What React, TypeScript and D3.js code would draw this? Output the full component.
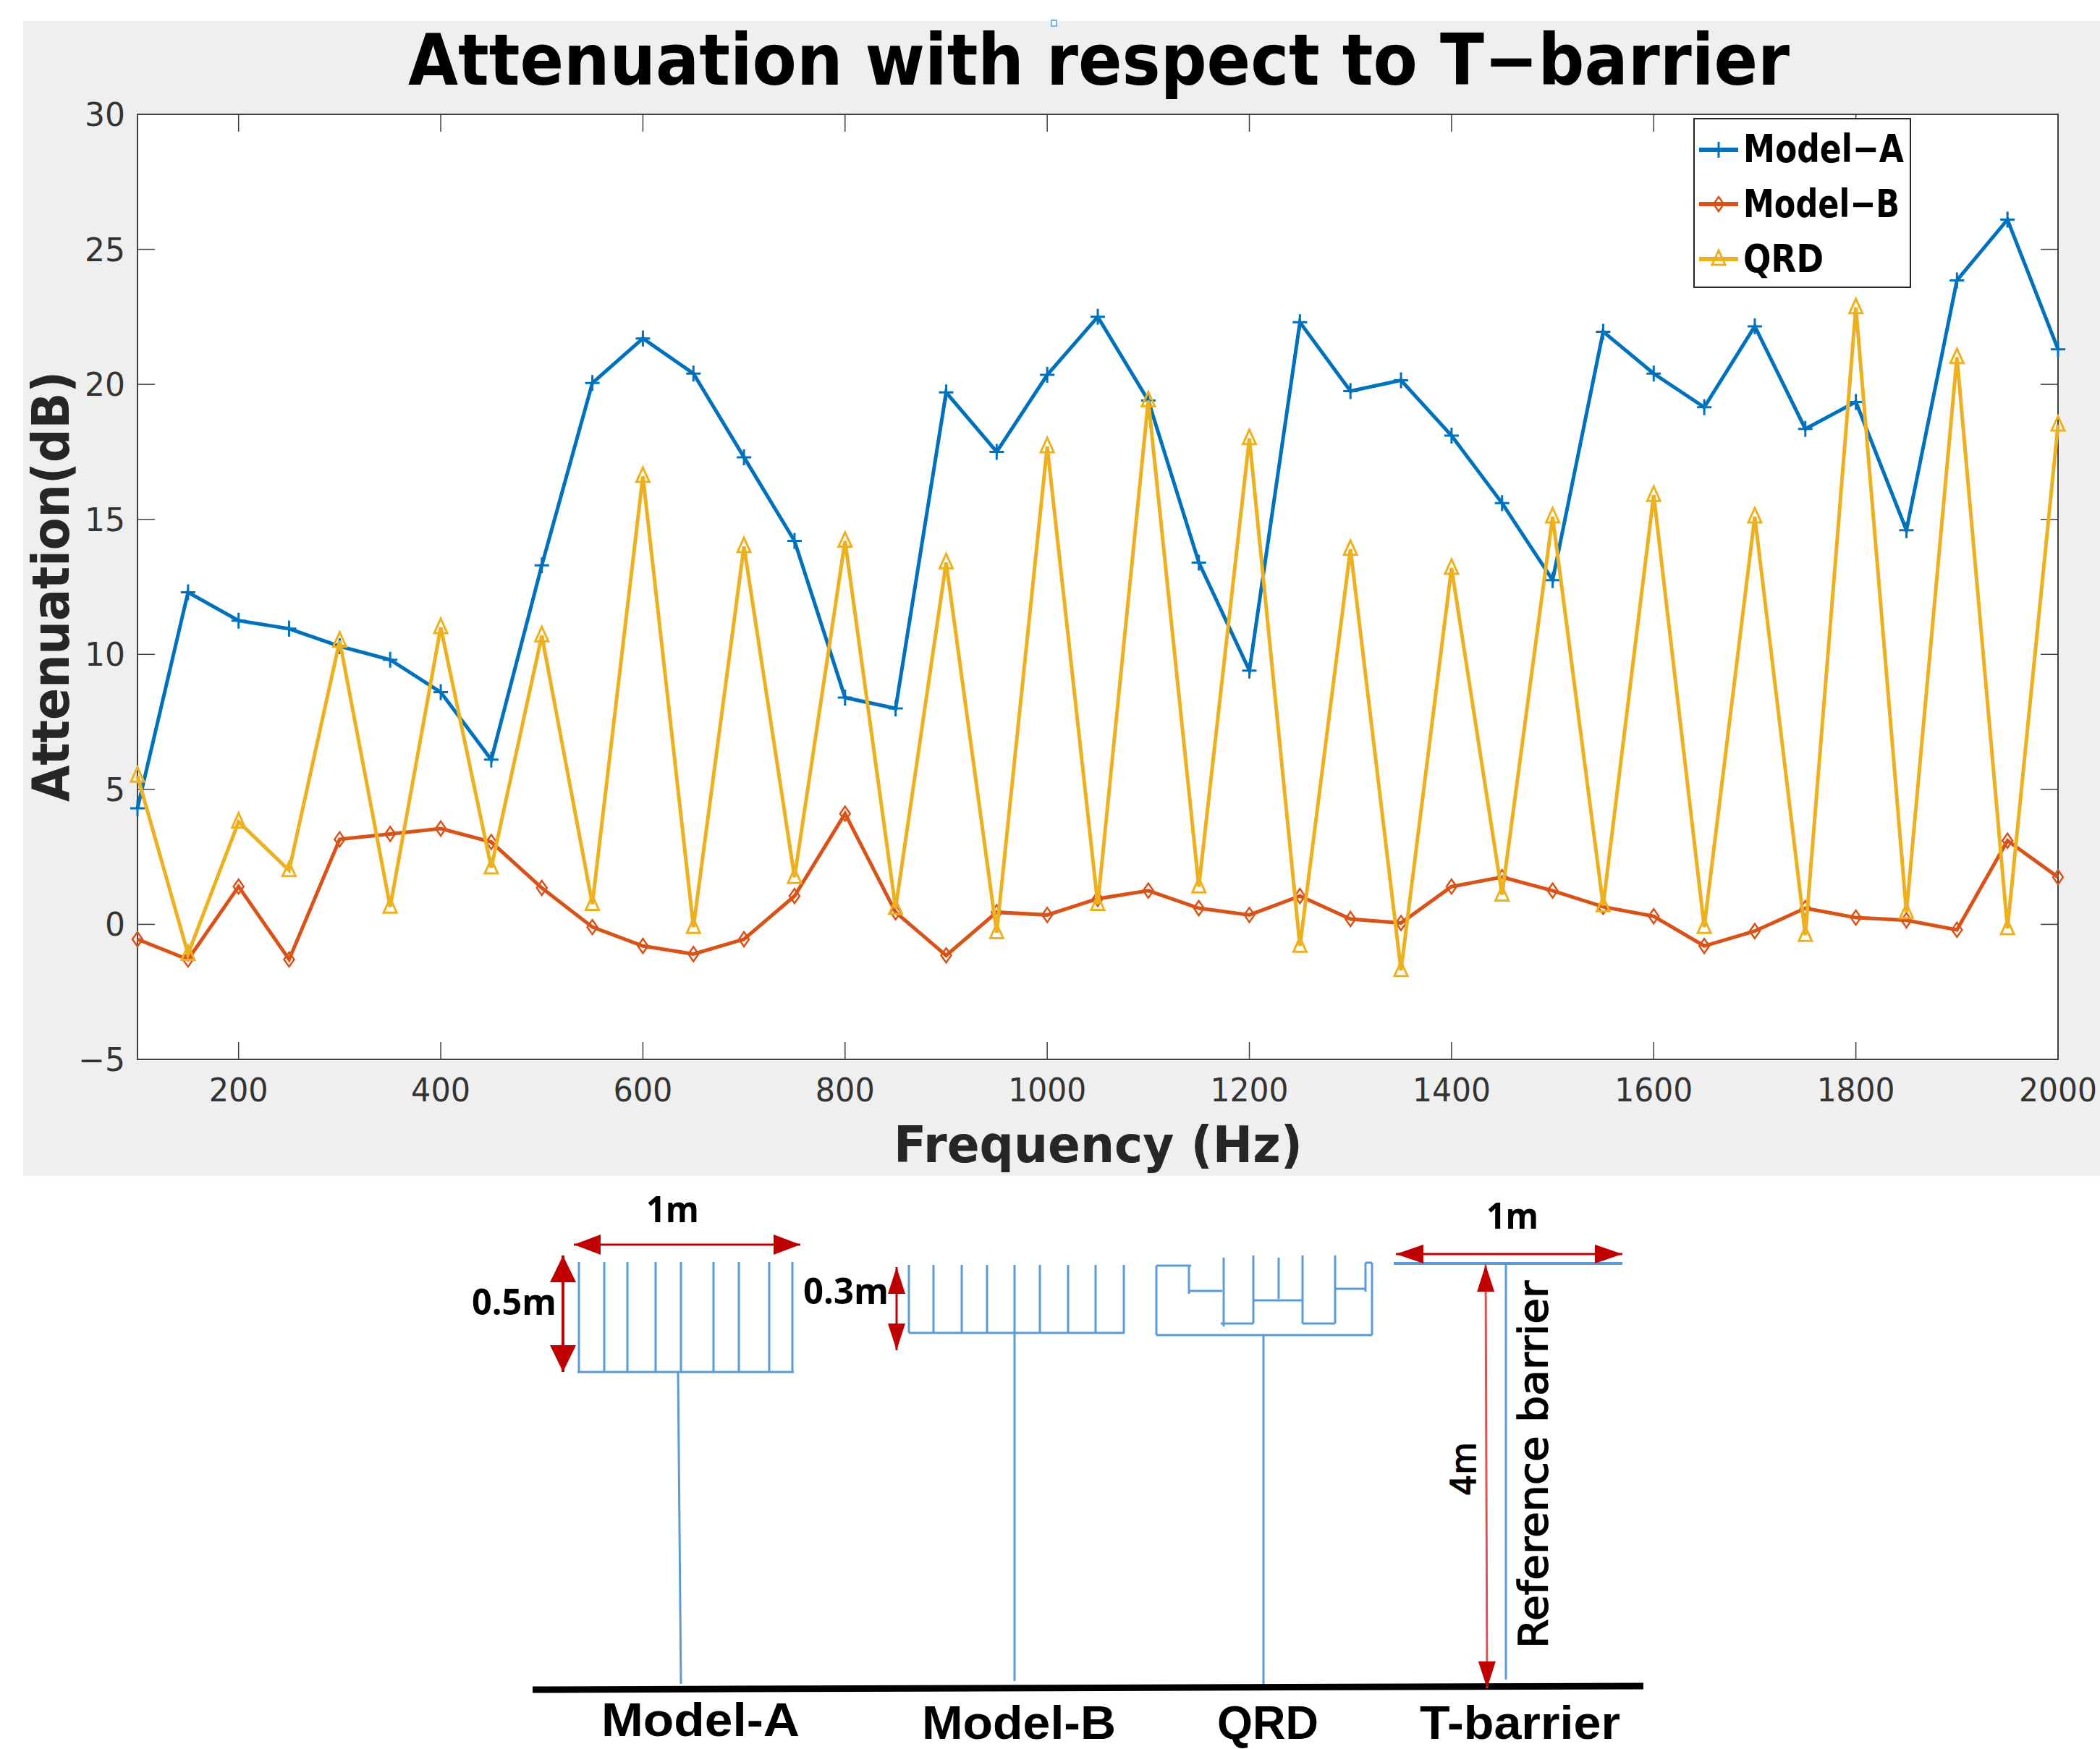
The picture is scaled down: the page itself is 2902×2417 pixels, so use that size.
import React from "react";
import * as d3 from "d3";

const frequency = d3.range(39).map((i) => 100 + i * 50);
const modelA = [4.3, 12.3, 11.25, 10.95, 10.3, 9.8, 8.6, 6.1, 13.3, 20.05, 21.7, 20.4, 17.3, 14.2, 8.4, 8.0, 19.7, 17.5, 20.35, 22.5, 19.4, 13.4, 9.4, 22.3, 19.75, 20.15, 18.1, 15.6, 12.75, 21.95, 20.4, 19.15, 22.15, 18.35, 19.35, 14.6, 23.85, 26.1, 21.3];
const modelB = [-0.55, -1.3, 1.4, -1.3, 3.15, 3.35, 3.55, 3.05, 1.35, -0.1, -0.8, -1.1, -0.55, 1.05, 4.1, 0.45, -1.15, 0.45, 0.35, 0.95, 1.25, 0.6, 0.35, 1.05, 0.2, 0.05, 1.4, 1.75, 1.25, 0.65, 0.3, -0.8, -0.25, 0.6, 0.25, 0.15, -0.2, 3.1, 1.75];
const qrd = [5.5, -1.1, 3.8, 2.0, 10.5, 0.65, 11, 2.1, 10.7, 0.75, 16.6, -0.1, 14, 1.75, 14.2, 0.6, 13.4, -0.3, 17.7, 0.75, 19.4, 1.4, 18, -0.8, 13.9, -1.7, 13.2, 1.1, 15.1, 0.7, 15.9, -0.1, 15.1, -0.4, 22.85, 0.45, 21, -0.15, 18.5];
const xTicks = [200, 400, 600, 800, 1000, 1200, 1400, 1600, 1800, 2000];
const yTicks = [-5, 0, 5, 10, 15, 20, 25, 30];
const seriesNames = ["Model\u2212A", "Model\u2212B", "QRD"];

const WIDTH = 2902;
const HEIGHT = 2417;
const plot = { left: 190, right: 2844, top: 158, bottom: 1464 };
const colors = ["#0072BD", "#D95319", "#EDB120"];
const DARK = "#262626";
const AXIS = "#404040";
const BLUE = "#5B9BD5";
const RED = "#C00000";
const LABEL_FONT = "'DejaVu Sans', sans-serif";
const SKETCH_FONT = "'Open Sans', sans-serif";
const BASE_FONT = "'Liberation Sans', sans-serif";

const x = d3.scaleLinear().domain([100, 2000]).range([plot.left, plot.right]);
const y = d3.scaleLinear().domain([-5, 30]).range([plot.bottom, plot.top]);

const makeLine = d3
  .line<number>()
  .x((_, i) => x(frequency[i]))
  .y((d) => y(d));

// markers, centred on 0,0
const Marker = ({ kind, cx, cy, color }: any) => {
  if (kind === 0)
    return <path transform={`translate(${cx},${cy})`} d="M-10,0H10M0,-11V11" stroke={color} strokeWidth={3} fill="none" />;
  if (kind === 1)
    return <path transform={`translate(${cx},${cy})`} d="M0,-10L7,0L0,10L-7,0Z" stroke={color} strokeWidth={2.5} fill="none" />;
  return <path transform={`translate(${cx},${cy})`} d="M0,-12L9,8H-9Z" stroke={color} strokeWidth={3} fill="none" />;
};

const Arrow = ({ x1, y1, x2, y2, head, half, width = 3, color = RED }: any) => {
  const len = Math.hypot(x2 - x1, y2 - y1);
  const ux = (x2 - x1) / len;
  const uy = (y2 - y1) / len;
  const tri = (tx: number, ty: number, dx: number, dy: number) => {
    const bx = tx - dx * head;
    const by = ty - dy * head;
    return `M${tx},${ty}L${bx - dy * half},${by + dx * half}L${bx + dy * half},${by - dx * half}Z`;
  };
  return (
    <g>
      <line x1={x1} y1={y1} x2={x2} y2={y2} stroke={color} strokeWidth={width} />
      <path d={tri(x2, y2, ux, uy)} fill={RED} />
      <path d={tri(x1, y1, -ux, -uy)} fill={RED} />
    </g>
  );
};

// schematic outlines below the chart, in picture pixels
const schematicSegments = [
  // Model-A
  ...[800, 835, 867, 906, 941, 986, 1021, 1063, 1095].map((fx) => [fx, 1744, fx, 1896]),
  [798, 1896, 1097, 1896],
  [937, 1896, 941, 2327],
  // Model-B
  ...[1256, 1290, 1329, 1364, 1402, 1437, 1476, 1514, 1553].map((fx) => [fx, 1748, fx, 1842]),
  [1256, 1842, 1554, 1842],
  [1402, 1842, 1402, 2323],
  // QRD
  [1598, 1749, 1598, 1845],
  [1598, 1749, 1646, 1749],
  [1643, 1749, 1643, 1788],
  [1643, 1784, 1689, 1784],
  [1691, 1738, 1691, 1833],
  [1687, 1829, 1732, 1829],
  [1732, 1735, 1732, 1829],
  [1732, 1797, 1800, 1797],
  [1767, 1738, 1767, 1795],
  [1800, 1735, 1800, 1829],
  [1800, 1829, 1845, 1829],
  [1845, 1735, 1845, 1829],
  [1845, 1781, 1887, 1781],
  [1887, 1745, 1887, 1785],
  [1887, 1745, 1896, 1745],
  [1896, 1745, 1896, 1845],
  [1598, 1845, 1896, 1845],
  [1746, 1845, 1746, 2330],
  // T-barrier
  [2081, 1746, 2081, 2321],
];

const FitText = ({ tx, ty, len, size, weight = 700, font = SKETCH_FONT, fill = "#000", rotate, outline = 0, children }: any) => (
  <text
    x={tx}
    y={ty}
    fontSize={size}
    fontWeight={weight}
    fontFamily={font}
    fill={fill}
    stroke={outline ? fill : "none"}
    strokeWidth={outline}
    textLength={len}
    lengthAdjust="spacingAndGlyphs"
    transform={rotate ? `rotate(${rotate},${tx},${ty})` : undefined}
  >
    {children}
  </text>
);

export default function App() {
  const series = [modelA, modelB, qrd];
  const legendY = [207, 282, 358];
  const legendBase = [224, 300, 376];
  const legendLen = [222, 216, 111];

  return (
    <svg
      width={WIDTH}
      height={HEIGHT}
      viewBox={`0 0 ${WIDTH} ${HEIGHT}`}
      style={{ position: "absolute", left: 0, top: 0, display: "block", background: "#fff" }}
    >
      <rect x={32} y={29} width={WIDTH - 32} height={1596} fill="#EFEFEF" />
      <rect x={1453} y={28} width={7} height={8} fill="#fff" stroke="#5B9BD5" strokeWidth={1.5} />
      <rect x={plot.left} y={plot.top} width={plot.right - plot.left} height={plot.bottom - plot.top} fill="#fff" stroke={AXIS} strokeWidth={2} />

      {xTicks.map((t) => (
        <g key={t}>
          <line x1={x(t)} x2={x(t)} y1={plot.bottom} y2={plot.bottom - 24} stroke={AXIS} strokeWidth={1.5} />
          <line x1={x(t)} x2={x(t)} y1={plot.top} y2={plot.top + 24} stroke={AXIS} strokeWidth={1.5} />
          <text x={x(t)} y={1522} textAnchor="middle" fontSize={44} fontFamily={LABEL_FONT} fill="#333" textLength={t >= 1000 ? 108 : 82} lengthAdjust="spacingAndGlyphs">
            {t}
          </text>
        </g>
      ))}
      {yTicks.map((t) => (
        <g key={t}>
          <line x1={plot.left} x2={plot.left + 24} y1={y(t)} y2={y(t)} stroke={AXIS} strokeWidth={1.5} />
          <line x1={plot.right} x2={plot.right - 24} y1={y(t)} y2={y(t)} stroke={AXIS} strokeWidth={1.5} />
          <text x={173} y={y(t) + 16} textAnchor="end" fontSize={44} fontFamily={LABEL_FONT} fill="#333">
            {t < 0 ? `\u2212${-t}` : t}
          </text>
        </g>
      ))}

      <g>
        {series.map((values, s) => (
          <g key={s}>
            <path d={makeLine(values) || ""} fill="none" stroke={colors[s]} strokeWidth={5} strokeLinejoin="miter" />
            {values.map((v, i) => (
              <Marker key={i} kind={s} cx={x(frequency[i])} cy={y(v)} color={colors[s]} />
            ))}
          </g>
        ))}
      </g>

      <FitText tx={564} ty={117} len={1909} size={98} font={LABEL_FONT}>
        {"Attenuation with respect to T\u2212barrier"}
      </FitText>
      <FitText tx={1235} ty={1606} len={565} size={70} font={LABEL_FONT} fill={DARK}>
        Frequency (Hz)
      </FitText>
      <FitText tx={95} ty={1108} len={595} size={72} font={LABEL_FONT} fill={DARK} rotate={-90}>
        Attenuation(dB)
      </FitText>

      <rect x={2341} y={164} width={299} height={233} fill="#fff" stroke={DARK} strokeWidth={2} />
      {seriesNames.map((name, i) => (
        <g key={name}>
          <line x1={2348} x2={2402} y1={legendY[i]} y2={legendY[i]} stroke={colors[i]} strokeWidth={6} />
          <Marker kind={i} cx={2375} cy={legendY[i]} color={colors[i]} />
          <FitText tx={2409} ty={legendBase[i]} len={legendLen[i]} size={54} font={LABEL_FONT}>
            {name}
          </FitText>
        </g>
      ))}

      {/* barrier sketches */}
      {schematicSegments.map(([a, b, c, d], i) => (
        <line key={i} x1={a} y1={b} x2={c} y2={d} stroke={BLUE} strokeWidth={3} />
      ))}
      <line x1={1926} y1={1746} x2={2242} y2={1746} stroke={BLUE} strokeWidth={4} />
      <line x1={736} y1={2335} x2={2271} y2={2330} stroke="#000" strokeWidth={9} />

      <Arrow x1={793} y1={1720} x2={1106} y2={1720} head={37} half={14} />
      <Arrow x1={778} y1={1735} x2={778} y2={1896} head={37} half={18} width={4} />
      <Arrow x1={1239} y1={1751} x2={1239} y2={1866} head={37} half={12} />
      <Arrow x1={1929} y1={1733} x2={2242} y2={1733} head={38} half={13} />
      <Arrow x1={2053} y1={1748} x2={2055} y2={2333} head={37} half={12} color="#D9534F" />

      <FitText tx={893} ty={1689} len={73} size={50}>1m</FitText>
      <FitText tx={652} ty={1817} len={117} size={50}>0.5m</FitText>
      <FitText tx={1110} ty={1802} len={118} size={50}>0.3m</FitText>
      <FitText tx={2054} ty={1698} len={72} size={50}>1m</FitText>
      <FitText tx={2039} ty={2067} len={74} size={48} font={LABEL_FONT} weight={400} outline={1.5} rotate={-90}>4m</FitText>
      <FitText tx={2138} ty={2278} len={508} size={56} font={LABEL_FONT} weight={400} outline={1.5} rotate={-90}>Reference barrier</FitText>

      <FitText tx={831} ty={2399} len={274} size={64} font={BASE_FONT}>Model-A</FitText>
      <FitText tx={1274} ty={2403} len={268} size={64} font={BASE_FONT}>Model-B</FitText>
      <FitText tx={1682} ty={2403} len={140} size={64} font={BASE_FONT}>QRD</FitText>
      <FitText tx={1962} ty={2403} len={277} size={64} font={BASE_FONT}>T-barrier</FitText>
    </svg>
  );
}
